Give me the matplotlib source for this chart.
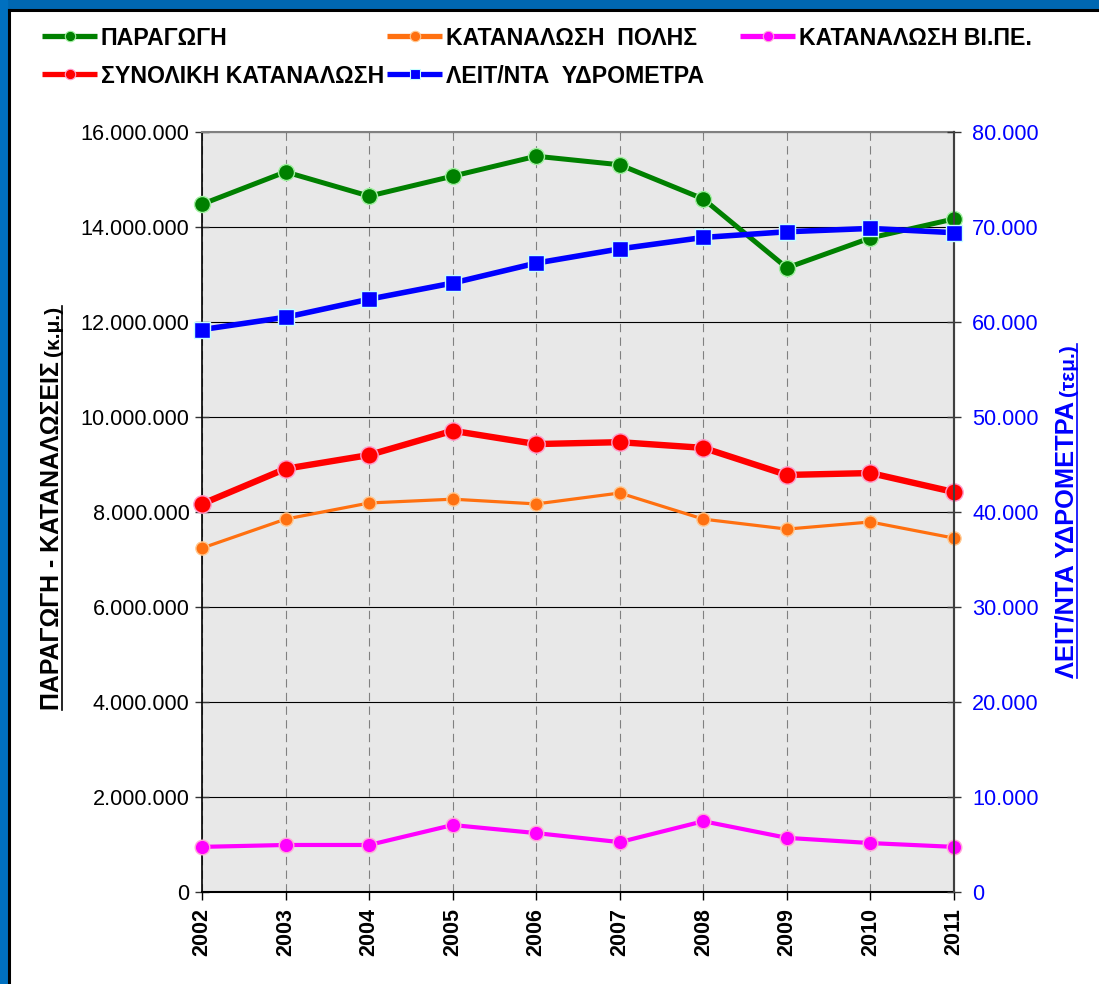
import matplotlib
matplotlib.use("Agg")
import matplotlib.pyplot as plt
from matplotlib.lines import Line2D
from matplotlib.patches import Rectangle
from matplotlib.ticker import FuncFormatter, MultipleLocator

plt.rcParams['font.family'] = ['Liberation Sans', 'DejaVu Sans']

years = [2002, 2003, 2004, 2005, 2006, 2007, 2008, 2009, 2010, 2011]
production = [14480000, 15160000, 14650000, 15070000, 15490000, 15310000, 14590000, 13140000, 13770000, 14170000]
city_consumption = [7240000, 7850000, 8190000, 8270000, 8170000, 8400000, 7850000, 7640000, 7790000, 7450000]
vipe_consumption = [950000, 990000, 990000, 1410000, 1240000, 1050000, 1490000, 1140000, 1030000, 950000]
total_consumption = [8170000, 8910000, 9200000, 9710000, 9430000, 9470000, 9350000, 8780000, 8820000, 8420000]
meters = [59200, 60500, 62400, 64100, 66200, 67700, 68900, 69500, 69850, 69400]

labels = ['ΠΑΡΑΓΩΓΗ', 'ΚΑΤΑΝΑΛΩΣΗ  ΠΟΛΗΣ', 'ΚΑΤΑΝΑΛΩΣΗ ΒΙ.ΠΕ.', 'ΣΥΝΟΛΙΚΗ ΚΑΤΑΝΑΛΩΣΗ', 'ΛΕΙΤ/ΝΤΑ  ΥΔΡΟΜΕΤΡΑ']
ylabel_left = 'ΠΑΡΑΓΩΓΗ - ΚΑΤΑΝΑΛΩΣΕΙΣ'
ylabel_left_unit = '(κ.μ.)'
ylabel_right = 'ΛΕΙΤ/ΝΤΑ ΥΔΡΟΜΕΤΡΑ'
ylabel_right_unit = '(τεμ.)'

W, H = 1099, 984
fig = plt.figure(figsize=(W / 100, H / 100), dpi=100)
fig.patch.set_facecolor('white')

def fx(x):
    return x / W

def fy(y):
    return 1 - y / H

# frame (blue border top/left)
fig.add_artist(Rectangle((0, fy(8)), 1, 8 / H, transform=fig.transFigure, color='#0067b1', zorder=0))
fig.add_artist(Rectangle((0, 0), fx(7), 1, transform=fig.transFigure, color='#0070c0', zorder=0))
fig.add_artist(Line2D([fx(8.5), 1], [fy(9.5), fy(9.5)], transform=fig.transFigure, color='black', lw=2.2))
fig.add_artist(Line2D([fx(8.5), fx(8.5)], [0, fy(9.5)], transform=fig.transFigure, color='black', lw=2.2))

L, R, T, B = 202, 954, 132, 892
ax = fig.add_axes([fx(L), fy(B), fx(R) - fx(L), fy(T) - fy(B)])
ax.set_facecolor('#e8e8e8')

styles = {
    'prod': dict(color='#008000', lw=3.6, marker='o', ms=11.5, mec='#a0f0a0', mew=1.0),
    'city': dict(color='#ff7010', lw=2.3, marker='o', ms=9.5, mec='#ffc890', mew=1.0),
    'vipe': dict(color='#ff00ff', lw=3.0, marker='o', ms=10.5, mec='#ffa8d8', mew=1.0),
    'total': dict(color='#ff0000', lw=4.6, marker='o', ms=12.5, mec='#ff9ccc', mew=1.0),
    'meters': dict(color='#0000ff', lw=4.0, marker='s', ms=11.5, mec='#c8ffff', mew=1.0),
}

ax.plot(years, production, clip_on=False, zorder=4, **styles['prod'])
ax.plot(years, city_consumption, clip_on=False, zorder=4, **styles['city'])
ax.plot(years, vipe_consumption, clip_on=False, zorder=4, **styles['vipe'])
ax.plot(years, total_consumption, clip_on=False, zorder=4, **styles['total'])

ax.set_xlim(years[0], years[-1])
ax.set_ylim(0, 16000000)
ax.yaxis.set_major_locator(MultipleLocator(2000000))
ax.set_xticks(years)
ax.set_xticklabels([str(y) for y in years], rotation=90, fontsize=15.5, fontweight='bold')

fmt = FuncFormatter(lambda v, p: f"{int(round(v)):,}".replace(',', '.'))
ax.yaxis.set_major_formatter(fmt)
ax.tick_params(axis='y', direction='inout', length=10, width=1, colors='#333333', labelcolor='black', labelsize=15.6, pad=4)
ax.tick_params(axis='x', direction='out', length=5.5, width=1, colors='black', pad=6)

ax.grid(axis='y', color='black', lw=0.8, zorder=1)
ax.grid(axis='x', color='#808080', lw=0.8, linestyle=(0, (7.5, 4.8)), zorder=1)
ax.set_axisbelow(True)

ax.spines['left'].set_color('black')
ax.spines['left'].set_linewidth(1.2)
ax.spines['bottom'].set_color('black')
ax.spines['bottom'].set_linewidth(1.5)
ax.spines['top'].set_color('#808080')
ax.spines['top'].set_linewidth(1.5)
ax.spines['right'].set_color('#404040')
ax.spines['right'].set_linewidth(1.5)

ax2 = ax.twinx()
ax2.patch.set_visible(False)
ax2.plot(years, meters, clip_on=False, zorder=5, **styles['meters'])
ax2.set_ylim(0, 80000)
ax2.yaxis.set_major_locator(MultipleLocator(10000))
ax2.yaxis.set_major_formatter(fmt)
ax2.tick_params(axis='y', direction='inout', length=10, width=1, colors='#333333', labelcolor='#0000ff', labelsize=15.6, pad=8)
for s in ax2.spines.values():
    s.set_visible(False)
ax2.spines['right'].set_visible(True)
ax2.spines['right'].set_color('#404040')
ax2.spines['right'].set_linewidth(1.5)

# legend (manual)
leg_items = [
    (42, 36, styles['prod'], labels[0]),
    (387, 36, styles['city'], labels[1]),
    (740, 36, styles['vipe'], labels[2]),
    (42, 74, styles['total'], labels[3]),
    (387, 74, styles['meters'], labels[4]),
]
for x0, yc, st, lab in leg_items:
    lw_leg = 3.8
    fig.add_artist(Line2D([fx(x0), fx(x0 + 55)], [fy(yc), fy(yc)], transform=fig.transFigure,
                          color=st['color'], lw=lw_leg, solid_capstyle='butt'))
    fig.add_artist(Line2D([fx(x0 + 27.5)], [fy(yc)], transform=fig.transFigure, color=st['color'],
                          marker=st['marker'], ms=7.5 if st['marker'] == 'o' else 7, mec=st['mec'], mew=0.8, lw=0))
    fig.text(fx(x0 + 59), fy(yc), lab, fontsize=16.7, fontweight='bold', ha='left', va='center_baseline', color='black')

# axis labels with underline
renderer = fig.canvas.get_renderer()

def rot_label(xb, y_start, main, unit, color, x_ul, fs_main, fs_unit):
    t1 = fig.text(fx(xb), fy(y_start), main, rotation=90, rotation_mode='anchor', ha='left', va='baseline',
                  fontsize=fs_main, fontweight='bold', color=color)
    bb = t1.get_window_extent(renderer)
    t2 = fig.text(fx(xb), (bb.y1 + 5) / H, unit, rotation=90, rotation_mode='anchor', ha='left', va='baseline',
                  fontsize=fs_unit, fontweight='bold', color=color)
    bb2 = t2.get_window_extent(renderer)
    fig.add_artist(Line2D([fx(x_ul), fx(x_ul)], [fy(y_start), bb2.y1 / H], transform=fig.transFigure,
                          color=color, lw=1.2))

rot_label(59, 710, ylabel_left, ylabel_left_unit, 'black', 62, 17.9, 15)
rot_label(1074, 678, ylabel_right, ylabel_right_unit, '#0000ff', 1077, 18.3, 15)

fig.savefig('out.png', dpi=100, facecolor='white')
